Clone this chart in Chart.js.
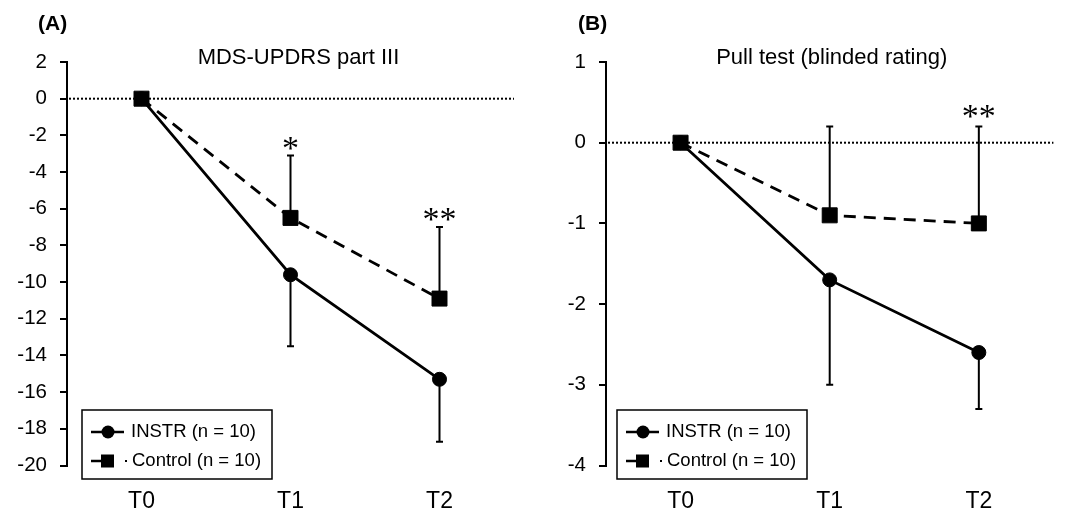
<!DOCTYPE html>
<html>
<head>
<meta charset="utf-8">
<script src="https://cdn.jsdelivr.net/npm/chart.js@4.4.1/dist/chart.umd.min.js"></script>
<style>
  body { margin: 0; background: #fff; }
  #wrap { position: relative; width: 1065px; height: 513px; }
  canvas { position: absolute; top: 0; }
  #chartA { left: 0; }
  #chartB { left: 533px; }
</style>
</head>
<body>
<div id="wrap">
  <canvas id="chartA" width="533" height="513"></canvas>
  <canvas id="chartB" width="532" height="513"></canvas>
</div>
<script>
// DATA
const timepoints = ["T0", "T1", "T2"];

// (A) MDS-UPDRS part III
const updrsInstr = [0, -9.6, -15.3];
const updrsInstrSd = [0, 3.9, 3.4];
const updrsControl = [0, -6.5, -10.9];
const updrsControlSd = [0, 3.4, 3.9];
const updrsSig = ["", "*", "**"];

// (B) Pull test
const pullInstr = [0, -1.7, -2.6];
const pullInstrSd = [0, 1.3, 0.7];
const pullControl = [0, -0.9, -1.0];
const pullControlSd = [0, 1.1, 1.2];
const pullSig = ["", "", "**"];

const seriesNames = ["INSTR (n = 10)", "Control (n = 10)"];

const SANS = "'Liberation Sans', Arial, sans-serif";
Chart.defaults.font.family = SANS;
Chart.defaults.color = "#000";

// error bars, zero line, titles, asterisks, legend box
const panelPlugin = {
  id: "panel",
  beforeDatasetsDraw(chart) {
    const { ctx, chartArea, scales: { x, y } } = chart;
    const y0 = y.getPixelForValue(0);
    ctx.save();
    ctx.strokeStyle = "#000";
    ctx.lineWidth = 2;
    ctx.setLineDash([2, 2]);
    ctx.beginPath();
    ctx.moveTo(chartArea.left + 2, y0);
    ctx.lineTo(chartArea.right, y0);
    ctx.stroke();
    ctx.setLineDash([]);

    chart.data.datasets.forEach(ds => {
      ds.data.forEach((v, i) => {
        const e = ds.errors[i];
        if (!e) return;
        const px = x.getPixelForValue(i);
        const py = y.getPixelForValue(v);
        const pe = y.getPixelForValue(v + ds.errDir * e);
        ctx.beginPath();
        ctx.moveTo(px, py);
        ctx.lineTo(px, pe);
        ctx.moveTo(px - 3.5, pe);
        ctx.lineTo(px + 3.5, pe);
        ctx.stroke();
      });
    });
    ctx.restore();
  },
  afterDraw(chart, args, opts) {
    const { ctx, chartArea, scales: { x, y } } = chart;
    ctx.save();
    ctx.fillStyle = "#000";
    ctx.strokeStyle = "#000";

    // panel letter
    ctx.font = "bold 21px " + SANS;
    ctx.textAlign = "left";
    ctx.textBaseline = "alphabetic";
    ctx.fillText(opts.letter, opts.letterX, 30);

    // title
    ctx.font = "22px " + SANS;
    ctx.textAlign = "center";
    ctx.fillText(opts.title, (chartArea.left + chartArea.right) / 2 + opts.titleShift, 64);

    // significance marks above control error bars
    const ctrl = chart.data.datasets[1];
    ctx.font = "34px 'Liberation Serif', 'Times New Roman', serif";
    opts.sig.forEach((s, i) => {
      if (!s) return;
      const top = y.getPixelForValue(ctrl.data[i] + ctrl.errors[i]);
      ctx.fillText(s, x.getPixelForValue(i), top + opts.sigGap);
    });

    // legend
    const bx = chartArea.left + opts.legendX;
    const by = 410;
    ctx.lineWidth = 1.5;
    ctx.strokeRect(bx, by, 190, 69);

    const r1 = by + 22, r2 = by + 51;
    ctx.lineWidth = 2.5;
    ctx.beginPath();
    ctx.moveTo(bx + 9, r1);
    ctx.lineTo(bx + 42, r1);
    ctx.stroke();
    ctx.beginPath();
    ctx.arc(bx + 26, r1, 6.5, 0, Math.PI * 2);
    ctx.fill();

    ctx.beginPath();
    ctx.moveTo(bx + 9, r2);
    ctx.lineTo(bx + 19, r2);
    ctx.stroke();
    ctx.fillRect(bx + 19, r2 - 6.5, 13, 13);
    ctx.lineWidth = 2;
    ctx.beginPath();
    ctx.moveTo(bx + 43, r2);
    ctx.lineTo(bx + 45, r2);
    ctx.stroke();

    ctx.font = "18.5px " + SANS;
    ctx.textAlign = "left";
    ctx.textBaseline = "middle";
    ctx.fillText(seriesNames[0], bx + 49, r1);
    ctx.fillText(seriesNames[1], bx + 50, r2);
    ctx.restore();
  }
};

function makeChart(id, instr, instrSd, control, controlSd, yMin, yMax, step, area, panel) {
  const canvas = document.getElementById(id);
  return new Chart(canvas.getContext("2d"), {
    type: "line",
    data: {
      labels: timepoints,
      datasets: [
        {
          label: seriesNames[0],
          data: instr,
          errors: instrSd,
          errDir: -1,
          order: 2,
          borderColor: "#000",
          backgroundColor: "#000",
          borderWidth: 2.8,
          pointStyle: "circle",
          pointRadius: 7,
          pointHoverRadius: 7,
          pointBorderWidth: 1,
          tension: 0
        },
        {
          label: seriesNames[1],
          data: control,
          errors: controlSd,
          errDir: 1,
          order: 1,
          borderColor: "#000",
          backgroundColor: "#000",
          borderWidth: 2.8,
          borderDash: [12, 8],
          pointStyle: "rect",
          pointRadius: 10.6,
          pointHoverRadius: 10.6,
          pointBorderWidth: 1,
          tension: 0
        }
      ]
    },
    options: {
      responsive: false,
      animation: false,
      events: [],
      layout: {
        padding: { top: area.top, right: canvas.width - area.right, left: 0, bottom: 0 }
      },
      scales: {
        x: {
          type: "category",
          offset: true,
          grid: { display: false, drawTicks: false },
          border: { display: false },
          ticks: { font: { size: 23 }, color: "#000", padding: 22 },
          afterFit: s => { s.height = canvas.height - area.bottom; }
        },
        y: {
          min: yMin,
          max: yMax,
          grid: { drawOnChartArea: false, drawTicks: true, tickLength: 7, color: "#000", lineWidth: 2 },
          border: { display: true, color: "#000", width: 2 },
          ticks: { stepSize: step, font: { size: 20.5 }, color: "#000", padding: 13 },
          afterFit: s => { s.width = area.left; }
        }
      },
      plugins: {
        legend: { display: false },
        tooltip: { enabled: false },
        panel: panel
      }
    },
    plugins: [panelPlugin]
  });
}

makeChart("chartA", updrsInstr, updrsInstrSd, updrsControl, updrsControlSd, -20, 2, 2,
  { left: 67, right: 514, top: 62, bottom: 465.5 },
  { letter: "(A)", letterX: 38, title: "MDS-UPDRS part III", titleShift: 8, sig: updrsSig, sigGap: 3, legendX: 15 });

makeChart("chartB", pullInstr, pullInstrSd, pullControl, pullControlSd, -4, 1, 1,
  { left: 73, right: 532, top: 62, bottom: 465.5 },
  { letter: "(B)", letterX: 45, title: "Pull test (blinded rating)", titleShift: 2, sig: pullSig, sigGap: 0, legendX: 11 });
</script>
</body>
</html>
